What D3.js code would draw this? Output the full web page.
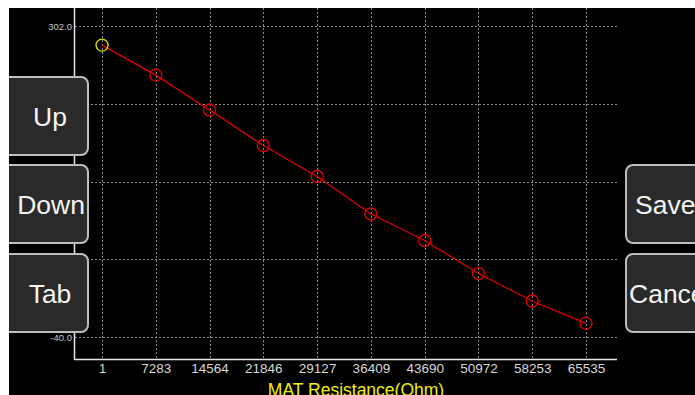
<!DOCTYPE html>
<html>
<head>
<meta charset="utf-8">
<script src="https://cdn.jsdelivr.net/npm/d3@7"></script>
<style>
  body { margin: 0; background: #fff; overflow: hidden; }
  svg { display: block; font-family: "Liberation Sans", Arial, sans-serif; }
</style>
</head>
<body>
<div id="chart"></div>
<script>
// resistance (x) and value (y)
var xTicks = [1, 7283, 14564, 21846, 29127, 36409, 43690, 50972, 58253, 65535];
var yValues = [281, 248, 209.6, 170.6, 136.5, 95.3, 66.1, 29.8, -0.4, -25];
var yTickLabels = ['302.0', '-40.0'];
var yDomain = [-40, 302];
var leftButtons = ['Up', 'Down', 'Tab'];
var rightButtons = ['Save', 'Cancel'];
var xTitle = 'MAT Resistance(Ohm)';

var W = 695, H = 395;
var svg = d3.select('#chart').append('svg')
  .attr('width', W).attr('height', H);

svg.append('rect').attr('width', W).attr('height', H).attr('fill', '#000');

var xScale = d3.scaleLinear().domain([1, 65535]).range([102, 586]);
var yScale = d3.scaleLinear().domain(yDomain).range([337, 26]);

// grid
var grid = svg.append('g').attr('stroke', '#8a8a8a').attr('stroke-width', 1)
  .attr('stroke-dasharray', '2,2');
d3.range(5).forEach(function(i) {
  var v = yDomain[0] + i * (yDomain[1] - yDomain[0]) / 4;
  var y = Math.round(yScale(v)) + 0.5;
  grid.append('line').attr('x1', 75).attr('x2', 617).attr('y1', y).attr('y2', y);
});
xTicks.forEach(function(t) {
  var x = Math.round(xScale(t)) + 0.5;
  grid.append('line').attr('x1', x).attr('x2', x).attr('y1', 8).attr('y2', 359);
});

// axes
var xAxis = d3.axisBottom(xScale).tickValues(xTicks).tickSize(0).tickPadding(4)
  .tickFormat(d3.format('d'));
var gx = svg.append('g').attr('transform', 'translate(0,359.5)').call(xAxis);
gx.select('.domain').attr('d', 'M74,0H617').attr('stroke', '#e8e8e8').attr('stroke-width', 1.5);
gx.selectAll('text').attr('fill', '#d8d8d8').attr('font-size', '13.5px')
  .attr('font-family', '"Liberation Sans", Arial, sans-serif');

svg.append('line').attr('x1', 74.5).attr('x2', 74.5).attr('y1', 8).attr('y2', 360)
  .attr('stroke', '#e8e8e8').attr('stroke-width', 1.5);

svg.selectAll('.ylab').data(yTickLabels).enter().append('text')
  .attr('class', 'ylab')
  .attr('x', 72).attr('y', function(d) { return yScale(+d) + 3.5; })
  .attr('text-anchor', 'end').attr('font-size', '9.5px').attr('fill', '#c8c8c8')
  .text(function(d) { return d; });

// data line + markers
var pts = xTicks.map(function(x, i) { return {x: x, y: yValues[i]}; });
svg.append('path').datum(pts)
  .attr('d', d3.line().x(function(d) { return xScale(d.x); }).y(function(d) { return yScale(d.y); }))
  .attr('fill', 'none').attr('stroke', '#e00000').attr('stroke-width', 1.3);
svg.selectAll('.pt').data(pts).enter().append('circle')
  .attr('class', 'pt')
  .attr('cx', function(d) { return xScale(d.x); })
  .attr('cy', function(d) { return yScale(d.y); })
  .attr('r', 6)
  .attr('fill', 'none')
  .attr('stroke', function(d, i) { return i === 0 ? '#e6e600' : '#e00000'; })
  .attr('stroke-width', 1.3);

// x title
svg.append('text').attr('x', 356).attr('y', 396).attr('text-anchor', 'middle')
  .attr('font-size', '17.5px').attr('fill', '#f0f000').text(xTitle);

// buttons
function button(x, y, w, h, label, tx, anchor) {
  var g = svg.append('g');
  g.append('rect').attr('x', x).attr('y', y).attr('width', w).attr('height', h)
    .attr('rx', 7).attr('fill', '#2a2a2a').attr('stroke', '#bdbdbd').attr('stroke-width', 2);
  g.append('text').attr('x', tx).attr('y', y + h / 2 + 9.5).attr('text-anchor', anchor)
    .attr('font-size', '26.5px').attr('fill', '#f4f4f4').text(label);
}
var lTop = [77, 165, 254];
leftButtons.forEach(function(b, i) {
  button(-20, lTop[i], 108, 78, b, i === 1 ? 85 : 50, i === 1 ? 'end' : 'middle');
});
var rTop = [165, 254];
rightButtons.forEach(function(b, i) {
  button(626, rTop[i], 100, 78, b, i === 0 ? 635 : 629, 'start');
});

// white border strips
svg.append('rect').attr('x', 0).attr('y', 0).attr('width', W).attr('height', 8).attr('fill', '#fff');
svg.append('rect').attr('x', 0).attr('y', 0).attr('width', 9).attr('height', H).attr('fill', '#fff');
</script>
</body>
</html>
